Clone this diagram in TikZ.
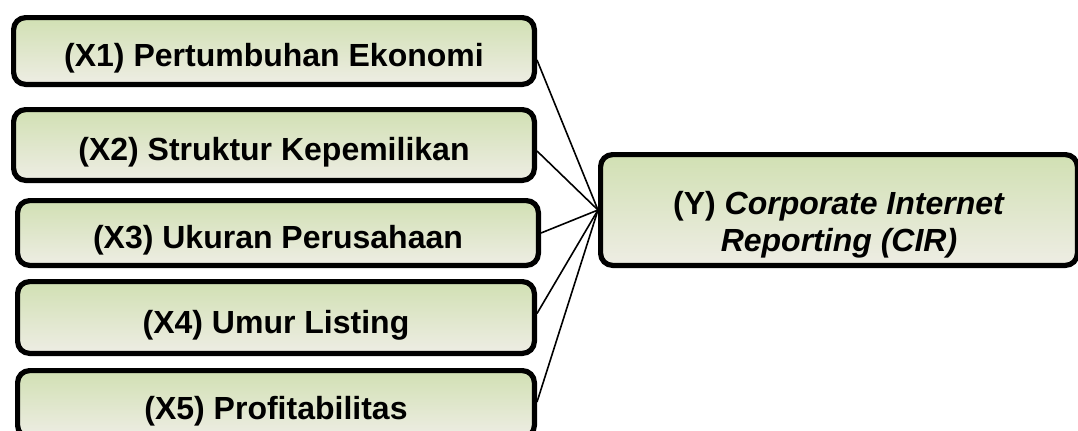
\documentclass[tikz,border=0pt]{standalone}
\usepackage{fontspec}
\setmainfont{Liberation Sans}
\usetikzlibrary{positioning}
\definecolor{LeafTop}{HTML}{D1E0B3}
\definecolor{LeafBottom}{HTML}{EEEDE4}

\begin{document}
\begin{tikzpicture}[
    x=0.5pt, y=-0.5pt,
    varbox/.style={rectangle, rounded corners=6pt, draw=black, line width=2.6pt, top color=LeafTop, bottom color=LeafBottom, minimum width=260.4pt, minimum height=33.4pt, align=center, inner sep=0pt, text height=15.5pt, text depth=0pt, font=\fontsize{16}{18.5}\selectfont\bfseries},
    link/.style={line width=0.8pt, black},
]
    \useasboundingbox (0,0) rectangle (1078,430);
    \node[varbox] (x1) at (274,51) {(X1) Pertumbuhan Ekonomi};
    \node[varbox, minimum height=35.4pt] (x2) at (274,145) {(X2) Struktur Kepemilikan};
    \node[varbox, minimum height=32.4pt] (x3) at (278,233) {(X3) Ukuran Perusahaan};
    \node[varbox, minimum width=258.4pt, minimum height=35.9pt] (x4) at (276,317.5) {(X4) Umur Listing};
    \node[varbox, minimum width=258.4pt] (x5) at (276,404) {(X5) Profitabilitas};
    \node[varbox, minimum width=238.4pt, minimum height=55.4pt, text height=44.5pt, text depth=3.5pt] (y) at (839,210) {(Y) \textit{Corporate Internet}\\\textit{Reporting (CIR)}};

    \draw[link] ([yshift=-4.5pt]x1.east) -- (y.west);
    \draw[link] ([yshift=-3pt]x2.east) -- (y.west);
    \draw[link] (x3.east) -- (y.west);
    \draw[link] ([yshift=2pt]x4.east) -- (y.west);
    \draw[link] ([yshift=1pt]x5.east) -- (y.west);
\end{tikzpicture}
\end{document}
